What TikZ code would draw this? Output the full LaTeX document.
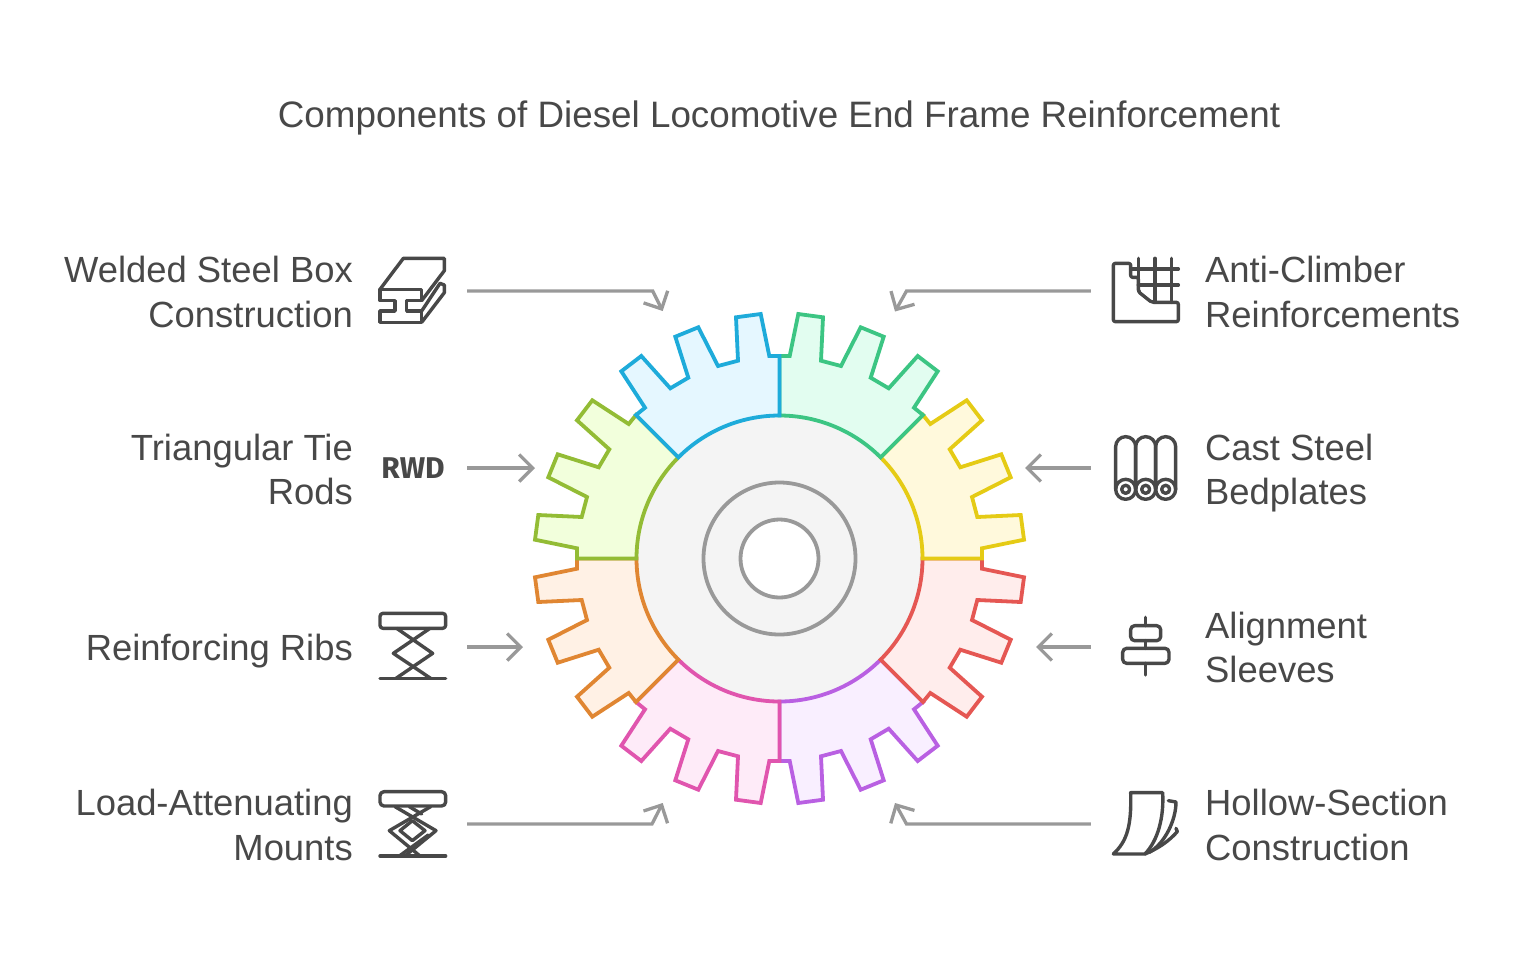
\documentclass[tikz,border=0pt]{standalone}
\usepackage{fontspec}
\setmainfont{Liberation Sans}
\newfontfamily\iconfont{Fira Sans}
\usetikzlibrary{arrows.meta}
\definecolor{inkgray}{HTML}{484848}
\definecolor{flowgray}{HTML}{999999}
\definecolor{hubgray}{HTML}{F4F4F4}
\definecolor{bluel}{HTML}{1EABDA}\definecolor{bluef}{HTML}{E5F7FF}
\definecolor{greenl}{HTML}{3CC583}\definecolor{greenf}{HTML}{E2FDF0}
\definecolor{yellowl}{HTML}{E5CB15}\definecolor{yellowf}{HTML}{FFF9DC}
\definecolor{redl}{HTML}{E55753}\definecolor{redf}{HTML}{FFEDEC}
\definecolor{purplel}{HTML}{B960E2}\definecolor{purplef}{HTML}{F9EFFF}
\definecolor{pinkl}{HTML}{E055AE}\definecolor{pinkf}{HTML}{FEEBF8}
\definecolor{orangel}{HTML}{E08632}\definecolor{orangef}{HTML}{FFF1E5}
\definecolor{limel}{HTML}{93BC35}\definecolor{limef}{HTML}{F2FFDC}
\tikzset{
  label/.style={text=inkgray,font=\fontsize{36.4}{44.5}\selectfont,inner sep=0pt},
  leftlabel/.style={label,align=right,anchor=east},
  rightlabel/.style={label,align=left,anchor=west},
  iconslot/.style={minimum width=108pt,minimum height=68pt,inner sep=0pt,text=inkgray},
  icon/.style={draw=inkgray,line width=3.4pt,line join=round,line cap=round},
  flow/.style={draw=flowgray,line width=3.3pt,-{Straight Barb[length=13.5pt,width=27pt,line width=3.3pt]}},
  ring/.style={draw=flowgray,line width=3.8pt},
}
\begin{document}
\begin{tikzpicture}[x=1pt,y=1pt]
  \useasboundingbox (0,-959) rectangle (1536,0);
  \coordinate (hub) at (779.5,-558.5);
  \node[label,font=\fontsize{36.8}{44.5}\selectfont] (title) at (779,-118) {Components of Diesel Locomotive End Frame Reinforcement};
  % gear
  \fill[hubgray] (hub) circle (143);
  \foreach \rot/\flip/\fillc/\linec in {180/1/purplef/purplel,180/-1/pinkf/pinkl,90/1/orangef/orangel,90/-1/limef/limel,270/-1/redf/redl,270/1/yellowf/yellowl,0/-1/greenf/greenl,0/1/bluef/bluel} {
    \begin{scope}[shift={(hub)},rotate=\rot,xscale=\flip]
      \filldraw[fill=\fillc,draw=\linec,line width=3.8pt]
        (0,202.5) -- (-10.2,202.5) -- (-18.8,244.5) -- (-43.5,241.2) -- (-41.5,197.8)
        -- (-61.5,192.5) -- (-81.2,231.2) -- (-104.2,221.8) -- (-91.2,180.8)
        -- (-109.2,170.2) -- (-138.2,202.5) -- (-158.2,187.2) -- (-134.5,150.8)
        -- (-143.5,143.5) -- (135:143) arc[start angle=135,end angle=90,radius=143] -- cycle;
    \end{scope}
  }
  \draw[ring] (hub) circle (76);
  \draw[ring,fill=white] (hub) circle (39);
  % left column
  \node[leftlabel] (weldlabel) at (353,-291.8) {Welded Steel Box\\Construction};
  \node[leftlabel] (tielabel) at (353,-469.5) {Triangular Tie\\Rods};
  \node[leftlabel] (riblabel) at (353,-651.5) {Reinforcing Ribs};
  \node[leftlabel] (mountlabel) at (353,-825) {Load-Attenuating\\Mounts};
  \node[iconslot] (weldicon) at (413,-291) {};
  \node[iconslot,font=\fontsize{30}{30}\iconfont\bfseries] (tieicon) at (413,-468) {RWD};
  \node[iconslot] (ribicon) at (413,-647) {};
  \node[iconslot] (mounticon) at (413,-824) {};
  % right column
  \node[rightlabel] (climblabel) at (1205,-291.8) {Anti-Climber\\Reinforcements};
  \node[rightlabel] (bedlabel) at (1205,-473) {Cast Steel\\Bedplates};
  \node[rightlabel] (sleevelabel) at (1205,-647.5) {Alignment\\Sleeves};
  \node[rightlabel] (hollowlabel) at (1205,-825) {Hollow-Section\\Construction};
  \node[iconslot] (climbicon) at (1145,-291) {};
  \node[iconslot] (bedicon) at (1145,-468) {};
  \node[iconslot] (sleeveicon) at (1145,-647) {};
  \node[iconslot] (hollowicon) at (1145,-824) {};
  % connector ends
  \coordinate (weldbend) at (652.7,-291);
  \coordinate (weldend) at (662.7,-311);
  \coordinate (tieend) at (535,-468);
  \coordinate (ribend) at (523,-647);
  \coordinate (mountbend) at (652,-824);
  \coordinate (mountend) at (662.7,-803);
  \coordinate (climbbend) at (906.5,-291);
  \coordinate (climbend) at (895,-311.5);
  \coordinate (bedend) at (1025,-468);
  \coordinate (sleeveend) at (1036,-647);
  \coordinate (hollowbend) at (906.5,-824);
  \coordinate (hollowend) at (895,-803);
  \draw[flow] (weldicon.east) -- (weldbend) -- (weldend);
  \draw[flow] (tieicon.east) -- (tieend);
  \draw[flow] (ribicon.east) -- (ribend);
  \draw[flow] (mounticon.east) -- (mountbend) -- (mountend);
  \draw[flow] (climbicon.west) -- (climbbend) -- (climbend);
  \draw[flow] (bedicon.west) -- (bedend);
  \draw[flow] (sleeveicon.west) -- (sleeveend);
  \draw[flow] (hollowicon.west) -- (hollowbend) -- (hollowend);
  % icons on the left
  \begin{scope}[shift={(360,-240)},x=0.3333pt,y=-0.3333pt]
    \draw[icon] (60,148) -- (185,148) -- (185,182) -- (140,182) -- (140,213) -- (185,213) -- (185,247) -- (60,247) -- (60,213) -- (105,213) -- (105,182) -- (60,182) -- cycle;
    \draw[icon] (60,148) -- (130,55) -- (253,55) -- (253,92) -- (185,182);
    \draw[icon] (185,213) -- (240,130) -- (253,135) -- (253,158) -- (185,247);
  \end{scope}
  \begin{scope}[shift={(360,-600)},x=0.3333pt,y=-0.3333pt]
    \draw[icon,rounded corners=3pt] (60,40) rectangle (257,85);
    \draw[icon] (60,235) -- (257,235);
    \draw[icon] (110,85) -- (218,160) -- (108,235);
    \draw[icon] (210,85) -- (100,160) -- (212,235);
    \draw[icon,rounded corners=4pt] (60,618) -- (60,575) -- (257,575) -- (257,618) -- cycle;
    \draw[icon] (60,768) -- (257,768);
    \draw[icon] (105,620) -- (228,692) -- (135,768);
    \draw[icon] (212,620) -- (88,692) -- (180,768);
    \draw[icon] (157,662) -- (195,692) -- (157,722) -- (120,692) -- cycle;
    \draw[icon] (148,620) -- (185,642);
    \draw[icon] (118,768) -- (205,705);
  \end{scope}
  % icons on the right
  \begin{scope}[shift={(1090,-240)},x=0.3333pt,y=-0.3333pt]
    \draw[icon,rounded corners=2pt] (70,70) -- (122,70) -- (122,112) -- (145,112) -- (145,155) -- (185,187) -- (265,187) -- (265,245) -- (70,245) -- cycle;
    \draw[icon] (145,55) -- (145,155);
    \draw[icon] (195,55) -- (195,187);
    \draw[icon] (245,55) -- (245,187);
    \draw[icon] (122,87) -- (265,87);
    \draw[icon] (145,135) -- (265,135);
    \foreach \cx in {107,167,227} {
      \draw[icon] (\cx-30,748) -- (\cx-30,620) arc[start angle=180,end angle=360,radius=30] -- (\cx+30,748);
      \draw[icon] (\cx,748) circle (30);
      \draw[icon] (\cx,748) circle (12);
    }
  \end{scope}
  \begin{scope}[shift={(1090,-600)},x=0.3333pt,y=-0.3333pt]
    \draw[icon] (166,52) -- (166,77);
    \draw[icon] (166,122) -- (166,145);
    \draw[icon] (166,190) -- (166,225);
    \draw[icon,rounded corners=4pt] (122,77) rectangle (212,122);
    \draw[icon,rounded corners=4pt] (98,145) rectangle (237,190);
    \draw[icon] (70,762) .. controls (110,725) and (125,680) .. (122,578) -- (218,578) .. controls (222,650) and (205,720) .. (165,762) -- cycle;
    \draw[icon] (235,602) -- (258,606) .. controls (258,660) and (225,730) .. (178,757);
    \draw[icon] (258,685) -- (262,695) .. controls (235,725) and (205,745) .. (165,762);
  \end{scope}
\end{tikzpicture}
\end{document}
